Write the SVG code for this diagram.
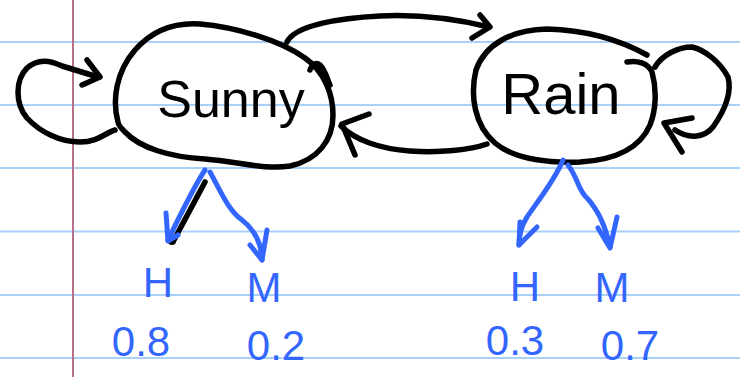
<svg xmlns="http://www.w3.org/2000/svg" width="740" height="377" viewBox="0 0 740 377">
<style>
.rule{stroke:#a9d1f7;stroke-width:2}
.margin{stroke:#b7708c;stroke-width:2}
.ink{fill:none;stroke:#000;stroke-width:5.5;stroke-linecap:round;stroke-linejoin:round}
.blue{fill:none;stroke:#3366ff;stroke-width:5;stroke-linecap:round;stroke-linejoin:round}
.lbl{font-family:"Liberation Sans",Arial,sans-serif;fill:#000;text-anchor:middle}
.blbl{font-family:"Liberation Sans",Arial,sans-serif;fill:#3366ff;text-anchor:middle;font-size:42px}
</style>
<rect width="740" height="377" fill="#fff"/>
<g id="paper">
<line class="rule" x1="0" y1="42" x2="740" y2="42"/>
<line class="rule" x1="0" y1="105" x2="740" y2="105"/>
<line class="rule" x1="0" y1="168" x2="740" y2="168"/>
<line class="rule" x1="0" y1="231.5" x2="740" y2="231.5"/>
<line class="rule" x1="0" y1="295" x2="740" y2="295"/>
<line class="rule" x1="0" y1="358" x2="740" y2="358"/>
<line class="margin" x1="73" y1="0" x2="73" y2="377"/>
</g>
<g id="sunny">
<path class="ink" d="M118,122 C112,100 116,72 135,50 C150,33 170,22 200,24 C235,27 280,40 305,58 C325,72 333,95 333,115 C333,140 318,160 290,166 C265,170 240,162 205,159 C170,157 140,148 125,132 C120,127 118,124 118,122 Z"/>
<path class="ink" d="M310,70 C312,64 316,62 320,65 C325,70 327,78 330,85"/>
<text class="lbl" x="231" y="117" font-size="52">Sunny</text>
</g>
<g id="rain">
<path class="ink" d="M627,62 C637,60 648,63 652,72 C657,90 656,110 650,125 C640,148 615,160 580,162 C550,163 515,160 495,143 C474,125 470,95 476,70 C485,45 510,30 547,29 C585,30 620,40 647,55"/>
<text class="lbl" x="561" y="114" font-size="58">Rain</text>
</g>
<g id="connectors">
<path class="ink" d="M115,130 C105,133 98,142 80,142 C60,142 40,132 27,118 C15,104 15,80 27,68 C38,58 50,60 62,66 L98,77"/>
<path class="ink" d="M87,60 L100,77 L82,85"/>
<path class="ink" d="M287,42 C295,25 340,18 380,16 C420,14 460,20 489,27"/>
<path class="ink" d="M480,15 L490,27 L472,38"/>
<path class="ink" d="M487,144 C470,150 440,153 410,151 C380,149 355,140 341,126"/>
<path class="ink" d="M369,114 L342,124 L355,155"/>
<path class="ink" d="M655,67 C662,55 678,47 692,47 C705,50 720,62 728,77 C732,92 725,110 713,127 C705,137 690,140 675,130"/>
<path class="ink" d="M692,118 L664,123 L682,152"/>
<path class="ink" d="M205,182 L174,240" stroke-width="4"/>
<circle cx="172" cy="241" r="4" fill="#000"/>
<path class="blue" stroke-width="7" d="M205,170 C195,185 185,205 168,240"/>
<path class="blue" stroke-width="6" d="M166,213 L168,241 L178,235"/>
<path class="blue" d="M210,172 C220,190 228,210 242,220 C255,230 262,245 262,260"/>
<path class="blue" d="M250,245 L262,260 L267,230"/>
<path class="blue" d="M563,160 C555,180 535,205 527,217 C520,228 519,238 519,245"/>
<path class="blue" d="M520,222 L519,245 L537,227"/>
<path class="blue" d="M568,165 C578,178 578,190 587,198 C598,210 606,228 610,247"/>
<path class="blue" d="M598,228 L610,248 L617,217"/>
</g>
<g id="sunny-emissions">
<text class="blbl" x="158" y="297">H</text>
<text class="blbl" x="264" y="302">M</text>
<text class="blbl" x="141" y="356">0.8</text>
<text class="blbl" x="276" y="360">0.2</text>
</g>
<g id="rain-emissions">
<text class="blbl" x="525" y="301">H</text>
<text class="blbl" x="612" y="302">M</text>
<text class="blbl" x="515" y="355">0.3</text>
<text class="blbl" x="630" y="360">0.7</text>
</g>
</svg>
